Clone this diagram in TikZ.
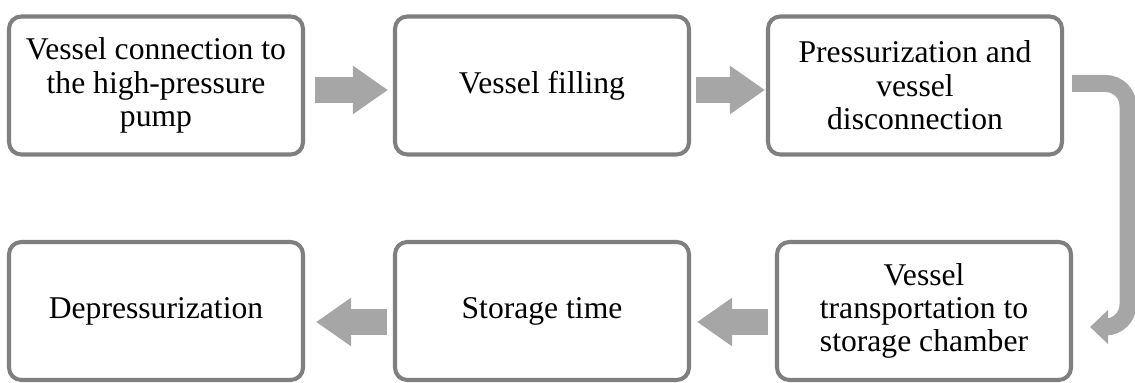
\documentclass[tikz,border=0pt]{standalone}
\usepackage{fontspec}
\setmainfont{Liberation Serif}
\usetikzlibrary{arrows.meta,positioning}
\definecolor{boxgray}{RGB}{127,127,127}
\definecolor{arrowgray}{RGB}{166,166,166}

\begin{document}
\begin{tikzpicture}[
  stage/.style={rectangle, rounded corners=7pt, draw=boxgray, line width=2.3pt, fill=white, minimum width=5.88cm, minimum height=2.76cm, align=center, font=\fontsize{18}{19}\selectfont},
  flow/.style={draw=arrowgray, line width=0.52cm, -{Triangle[length=0.7cm, width=0.92cm]}},
  turn/.style={draw=arrowgray, line width=0.34cm, rounded corners=0.45cm, -{Triangle[length=0.36cm, width=0.66cm]}}
]
\useasboundingbox (0,0) rectangle (22.7,7.66);
% Top row
\node[stage] (conn) at (3.12,5.95) {Vessel connection to\\the high-pressure\\pump};
\node[stage] (fill) at (10.84,5.95) {Vessel filling};
\node[stage] (press) at (18.30,5.95) {Pressurization and\\vessel\\disconnection};
% Bottom row
\node[stage] (depress) at (3.12,1.44) {Depressurization};
\node[stage] (store) at (10.84,1.44) {Storage time};
\node[stage] (transp) at (18.48,1.44) {Vessel\\transportation to\\storage chamber};
% Arrows
\draw[flow] ([xshift=0.2cm,yshift=-0.09cm]conn.east) -- ([xshift=-0.1cm,yshift=-0.09cm]fill.west);
\draw[flow] ([xshift=0.1cm,yshift=-0.09cm]fill.east) -- ([xshift=-0.02cm,yshift=-0.09cm]press.west);
\coordinate (drop) at (22.56,1.12);
\draw[turn] ([xshift=0.16cm,yshift=0.04cm]press.east) -| (drop) -- ([xshift=0.34cm,yshift=-0.32cm]transp.east);
\draw[flow] ([xshift=-0.14cm,yshift=-0.22cm]transp.west) -- ([xshift=0.12cm,yshift=-0.22cm]store.east);
\draw[flow] ([xshift=-0.12cm,yshift=-0.22cm]store.west) -- ([xshift=0.22cm,yshift=-0.22cm]depress.east);
\end{tikzpicture}
\end{document}
